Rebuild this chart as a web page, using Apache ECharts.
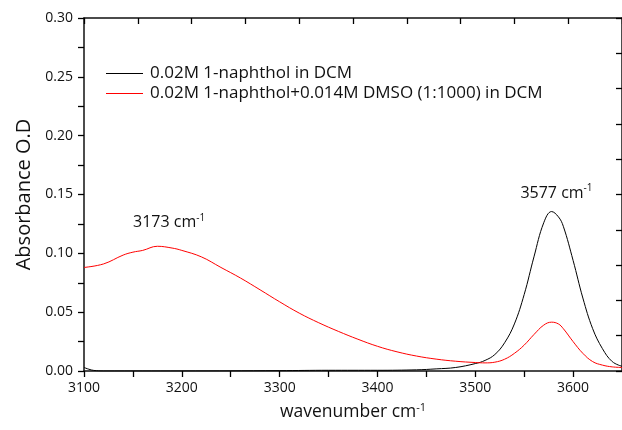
<!DOCTYPE html>
<html>
<head>
<meta charset="utf-8">
<script src="https://cdn.jsdelivr.net/npm/echarts@6/dist/echarts.min.js"></script>
<style>
  html, body { margin: 0; padding: 0; background: #fff; }
  #chart { width: 622px; height: 430px; }
</style>
</head>
<body>
<div id="chart"></div>
<script>
// wavenumber (cm-1) and absorbance
var naphtholX = [3100, 3105, 3110, 3120, 3200, 3300, 3350, 3400, 3440, 3460, 3480, 3500, 3510, 3520, 3530, 3540, 3550, 3560, 3570, 3578, 3585, 3590, 3600, 3610, 3620, 3630, 3640, 3650];
var naphtholY = [0.003, 0.0015, 0.0005, 0.0, 0.0, 0.0003, 0.0006, 0.0006, 0.001, 0.0018, 0.003, 0.0063, 0.009, 0.014, 0.024, 0.040, 0.065, 0.097, 0.126, 0.1355, 0.131, 0.123, 0.094, 0.062, 0.036, 0.019, 0.008, 0.004];

var dmsoX = [3100, 3120, 3140, 3150, 3160, 3175, 3190, 3200, 3220, 3240, 3260, 3280, 3300, 3320, 3340, 3360, 3380, 3400, 3420, 3440, 3460, 3480, 3500, 3510, 3520, 3530, 3540, 3550, 3560, 3570, 3578, 3585, 3590, 3600, 3610, 3620, 3630, 3640, 3650];
var dmsoY = [0.088, 0.091, 0.0985, 0.101, 0.1025, 0.106, 0.1045, 0.1025, 0.097, 0.088, 0.079, 0.069, 0.0588, 0.0492, 0.041, 0.0337, 0.027, 0.021, 0.0163, 0.0127, 0.0101, 0.0083, 0.0072, 0.0069, 0.0075, 0.0100, 0.015, 0.022, 0.031, 0.039, 0.0415, 0.040, 0.036, 0.025, 0.015, 0.008, 0.005, 0.0035, 0.003];

var seriesNames = ['0.02M 1-naphthol in DCM', '0.02M 1-naphthol+0.014M DMSO (1:1000) in DCM'];
var peakLabels = [['3173', 3187, 0.126], ['3577', 3583, 0.151]];

function pairs(xs, ys) {
    return xs.map(function (x, i) { return [x, ys[i]]; });
}

var font = '"Open Sans", sans-serif';
var ink = '#111';
var supRich = {
    t: { fontFamily: font, fontSize: 16, color: ink },
    s: { fontFamily: font, fontSize: 10, color: ink, padding: [0, 0, 10, 0] }
};

var myChart = echarts.init(document.getElementById('chart'));

var axisLine = { show: true, onZero: false, lineStyle: { color: ink, width: 1.5 } };

function ticks(inside) {
    return { show: true, inside: inside, length: 6, lineStyle: { color: 'black', width: 1.3 } };
}

// one axis per side; ticks every half step, labels only on the full steps
var option = {
    animation: false,
    grid: { left: 84, right: -3, top: 18, bottom: 59 },
    legend: {
        orient: 'vertical',
        left: 106,
        top: 65,
        padding: 0,
        icon: 'rect',
        itemWidth: 37,
        itemHeight: 1.2,
        itemGap: 3,
        data: seriesNames,
        textStyle: { fontFamily: font, fontSize: 17, color: ink, padding: [0, 0, 0, 2] }
    },
    xAxis: [{
        type: 'value',
        min: 3100,
        max: 3650,
        interval: 50,
        position: 'bottom',
        name: 'wavenumber cm{s|-1}',
        nameLocation: 'middle',
        nameGap: 31,
        nameTextStyle: {
            fontFamily: font, fontSize: 17.5, color: ink,
            rich: { s: { fontFamily: font, fontSize: 11, color: ink, padding: [0, 0, 10, 0] } }
        },
        axisLine: axisLine,
        axisTick: ticks(false),
        axisLabel: {
            fontFamily: font, fontSize: 14, color: ink, margin: 10, showMaxLabel: false,
            formatter: function (v) { return v % 100 === 0 ? String(v) : ''; }
        },
        splitLine: { show: false }
    }, {
        type: 'value',
        min: 3100,
        max: 3650,
        interval: 55,
        position: 'top',
        axisLine: axisLine,
        axisTick: ticks(true),
        axisLabel: { show: false },
        splitLine: { show: false }
    }],
    yAxis: [{
        type: 'value',
        min: 0,
        max: 0.30,
        interval: 0.025,
        position: 'left',
        name: 'Absorbance O.D',
        nameLocation: 'middle',
        nameGap: 48,
        nameTextStyle: { fontFamily: font, fontSize: 20, color: ink },
        axisLine: axisLine,
        axisTick: ticks(false),
        axisLabel: {
            fontFamily: font, fontSize: 14, color: ink, margin: 11,
            formatter: function (v) {
                return Math.abs(v * 20 - Math.round(v * 20)) < 1e-6 ? v.toFixed(2) : '';
            }
        },
        splitLine: { show: false }
    }, {
        type: 'value',
        min: 0,
        max: 0.30,
        interval: 0.03,
        position: 'right',
        axisLine: axisLine,
        axisTick: ticks(true),
        axisLabel: { show: false },
        splitLine: { show: false }
    }],
    series: [{
        name: seriesNames[0],
        type: 'line',
        data: pairs(naphtholX, naphtholY),
        symbol: 'none',
        smooth: 0.4,
        lineStyle: { color: '#000', width: 1 },
        itemStyle: { color: '#000' },
        markPoint: {
            symbol: 'circle',
            symbolSize: 0,
            label: {
                show: true,
                position: 'inside',
                formatter: function (p) { return '{t|' + p.name + ' cm}{s|-1}'; },
                rich: supRich
            },
            data: peakLabels.map(function (p) { return { name: p[0], coord: [p[1], p[2]] }; })
        }
    }, {
        name: seriesNames[1],
        type: 'line',
        data: pairs(dmsoX, dmsoY),
        symbol: 'none',
        smooth: 0.4,
        lineStyle: { color: '#ff0000', width: 1 },
        itemStyle: { color: '#ff0000' }
    }]
};
myChart.setOption(option);
window.addEventListener('resize', function () {
    myChart.resize();
});
</script>
</body>
</html>
